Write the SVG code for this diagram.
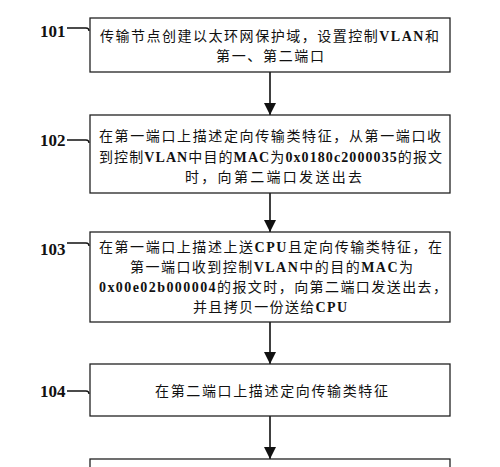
<svg xmlns="http://www.w3.org/2000/svg" width="500" height="467" viewBox="0 0 500 467">
<style>
.box{fill:#fff;stroke:#222;stroke-width:1.3}
.t{font-family:"Noto Sans CJK SC","Liberation Serif",sans-serif;font-size:14px;fill:#111}
.b{font-family:"Liberation Serif","Noto Sans CJK SC",serif;font-weight:bold}
.lbl{font-family:"Liberation Serif",serif;font-weight:bold;font-size:17px;fill:#111}
.ln{stroke:#111;stroke-width:1.6;fill:none}
.dash{stroke:#111;stroke-width:1.3;fill:none}
</style>
<defs>
<marker id="ah" viewBox="0 0 12 12" refX="12" refY="6" markerWidth="12" markerHeight="12" markerUnits="userSpaceOnUse" orient="auto">
<path d="M0,0 L12,6 L0,12 Z" fill="#111"/>
</marker>
</defs>
<rect width="500" height="467" fill="#fff"/>
<g id="connectors">
<line class="ln" x1="270" y1="72" x2="270" y2="115" marker-end="url(#ah)"/>
<line class="ln" x1="270" y1="193" x2="270" y2="232" marker-end="url(#ah)"/>
<line class="ln" x1="270" y1="322" x2="270" y2="364" marker-end="url(#ah)"/>
<line class="ln" x1="270" y1="416" x2="270" y2="459" marker-end="url(#ah)"/>
</g>
<g id="n101">
<rect class="box" x="90" y="18" width="360" height="54"/>
<text class="t" x="100" y="41" textLength="339" lengthAdjust="spacing">传输节点创建以太环网保护域，设置控制<tspan class="b">VLAN</tspan>和</text>
<text class="t" x="216" y="61" textLength="108" lengthAdjust="spacing">第一、第二端口</text>
<text class="lbl" x="40" y="37">101</text>
<path class="dash" d="M67,28 L86,28 Q89,28 89,31"/>
</g>
<g id="n102">
<rect class="box" x="90" y="115" width="360" height="78"/>
<text class="t" x="99" y="141" textLength="342" lengthAdjust="spacing">在第一端口上描述定向传输类特征，从第一端口收</text>
<text class="t" x="99" y="162" textLength="343" lengthAdjust="spacing">到控制<tspan class="b">VLAN</tspan>中目的<tspan class="b">MAC</tspan>为<tspan class="b">0x0180c2000035</tspan>的报文</text>
<text class="t" x="185" y="182" textLength="177" lengthAdjust="spacing">时，向第二端口发送出去</text>
<text class="lbl" x="40" y="146">102</text>
<path class="dash" d="M67,140 L86,140 Q89,140 89,143"/>
</g>
<g id="n103">
<rect class="box" x="90" y="232" width="360" height="90"/>
<text class="t" x="99" y="252" textLength="343" lengthAdjust="spacing">在第一端口上描述上送<tspan class="b">CPU</tspan>且定向传输类特征，在</text>
<text class="t" x="130" y="272" textLength="283" lengthAdjust="spacing">第一端口收到控制<tspan class="b">VLAN</tspan>中的目的<tspan class="b">MAC</tspan>为</text>
<text class="t" x="99" y="292" textLength="348" lengthAdjust="spacing"><tspan class="b">0x00e02b000004</tspan>的报文时，向第二端口发送出去，</text>
<text class="t" x="193" y="312" textLength="154" lengthAdjust="spacing">并且拷贝一份送给<tspan class="b">CPU</tspan></text>
<text class="lbl" x="40" y="255">103</text>
<path class="dash" d="M67,243 L86,243 Q89,243 89,246"/>
</g>
<g id="n104">
<rect class="box" x="90" y="364" width="360" height="52"/>
<text class="t" x="155" y="396" textLength="233" lengthAdjust="spacing">在第二端口上描述定向传输类特征</text>
<text class="lbl" x="40" y="397">104</text>
<path class="dash" d="M67,391 L86,391 Q89,391 89,394"/>
</g>
<g id="n105">
<rect class="box" x="90" y="459" width="360" height="30"/>
</g>
</svg>
